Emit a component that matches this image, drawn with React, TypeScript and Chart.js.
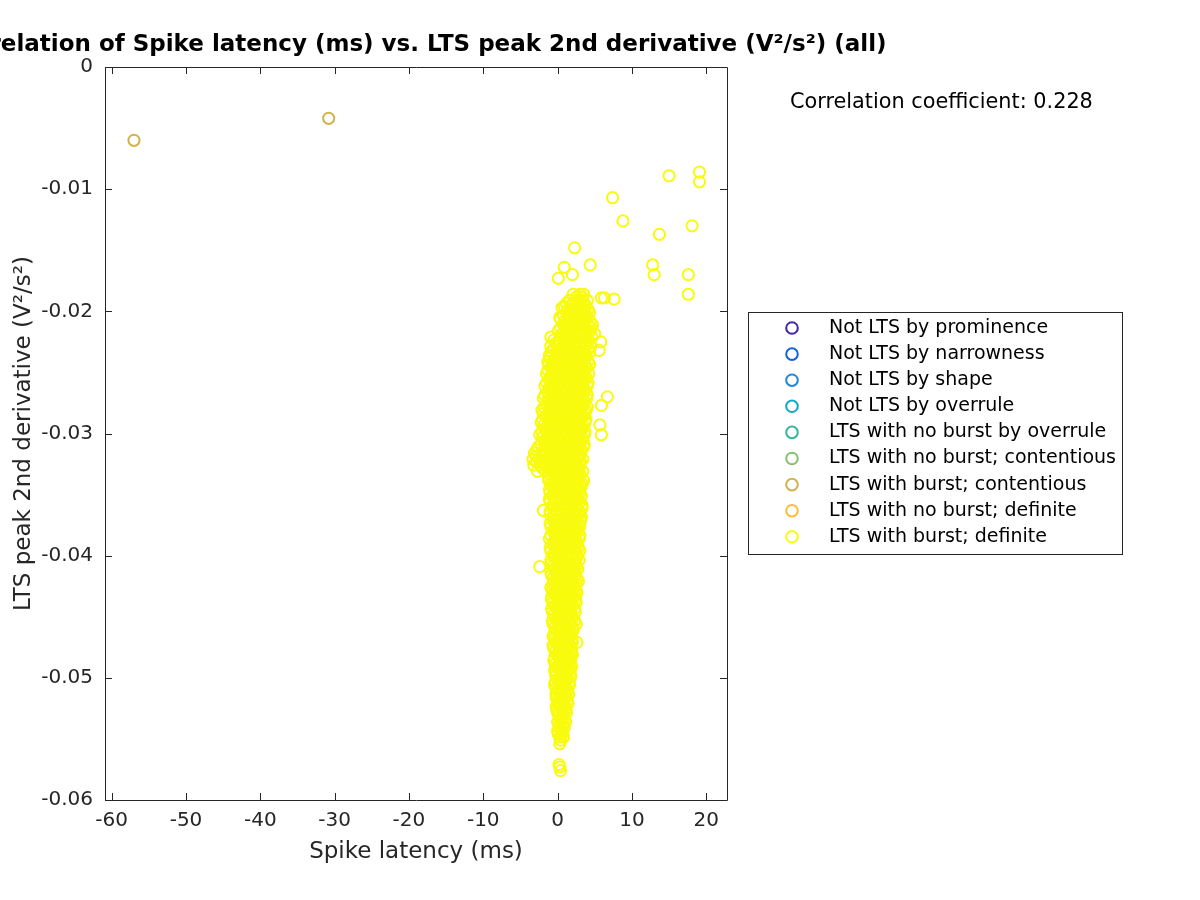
import React, { useEffect, useRef } from "react";
import { Chart, registerables } from "chart.js";

Chart.register(...registerables);

// ---------------- DATA ----------------
const titleText = "Correlation of Spike latency (ms) vs. LTS peak 2nd derivative (V²/s²) (all)";
const xAxisLabel = "Spike latency (ms)";
const yAxisLabel = "LTS peak 2nd derivative (V²/s²)";
const correlationText = "Correlation coefficient: 0.228";

const xTicks = [-60, -50, -40, -30, -20, -10, 0, 10, 20];
const yTicks = [-0.06, -0.05, -0.04, -0.03, -0.02, -0.01, 0];
const xRange = [-60.9, 22.8];
const yRange = [-0.06, 0];

const classLabels = [
  "Not LTS by prominence",
  "Not LTS by narrowness",
  "Not LTS by shape",
  "Not LTS by overrule",
  "LTS with no burst by overrule",
  "LTS with no burst; contentious",
  "LTS with burst; contentious",
  "LTS with no burst; definite",
  "LTS with burst; definite",
];
const classColors = [
  "#3E26A8",
  "#1562DE",
  "#1F86D8",
  "#0DAAC8",
  "#33B89C",
  "#86C06E",
  "#D2B24C",
  "#FBBE37",
  "#F9FB0E",
];

// LTS with burst; contentious: [latency (ms), peak 2nd derivative]
const burstContentiousPoints: [number, number][] = [
  [-57.0, -0.006],
  [-30.8, -0.0042],
];

// LTS with burst; definite – scattered points [latency, derivative]
const burstDefiniteScatter: [number, number][] = [
  [7.4, -0.0107], [8.8, -0.0126], [15.0, -0.0089], [19.1, -0.0086], [19.1, -0.0094],
  [13.7, -0.0137], [18.1, -0.013], [12.8, -0.0162], [13.0, -0.017], [17.6, -0.017],
  [17.6, -0.0186], [2.3, -0.0148], [4.4, -0.0162], [0.9, -0.0164], [2.0, -0.017],
  [0.1, -0.0173], [5.9, -0.0189], [6.3, -0.0189], [7.6, -0.019], [0.6, -0.0197],
  [0.3, -0.0205], [-0.9, -0.0221], [5.8, -0.0225], [5.6, -0.0232], [6.7, -0.027],
  [5.9, -0.0277], [5.7, -0.0293], [5.9, -0.0301], [-1.9, -0.0363], [-2.4, -0.0409],
  [3.1, -0.0371], [3.0, -0.0342], [0.3, -0.0554], [0.2, -0.0571], [0.4, -0.0576],
  [0.3, -0.0573],
];

// LTS with burst; definite – dense band, each row: [derivative, latencies]
const burstDefiniteRows: [number, number[]][] = [
  [-0.0186, [2.1, 3.0, 3.5]],
  [-0.0191, [1.6, 2.6, 3.2, 4.0]],
  [-0.0196, [0.9, 1.8, 2.4, 3.1, 3.8]],
  [-0.0201, [1.2, 2.0, 2.7, 3.5, 4.3]],
  [-0.0206, [0.4, 1.5, 2.3, 3.0, 3.9]],
  [-0.0211, [0.8, 1.7, 2.5, 3.3, 4.1, 4.7]],
  [-0.0216, [0.1, 1.1, 1.9, 2.6, 3.4, 4.4]],
  [-0.0221, [0.5, 1.4, 2.2, 2.9, 3.7, 4.6]],
  [-0.0226, [-0.2, 0.8, 1.6, 2.4, 3.1, 3.9]],
  [-0.0231, [-0.6, 0.3, 1.1, 1.9, 2.7, 3.5, 4.2]],
  [-0.0236, [-1.1, 0.0, 0.8, 1.5, 2.3, 3.0, 3.8]],
  [-0.0241, [-1.3, -0.4, 0.4, 1.2, 2.0, 2.7, 3.4, 4.1]],
  [-0.0246, [-0.9, 0.0, 0.9, 1.6, 2.4, 3.2, 3.9]],
  [-0.0251, [-1.5, -0.6, 0.3, 1.1, 1.9, 2.6, 3.4, 4.2]],
  [-0.0256, [-1.1, -0.2, 0.6, 1.4, 2.2, 2.9, 3.7]],
  [-0.0261, [-1.7, -0.8, 0.1, 0.9, 1.7, 2.5, 3.2, 4.0]],
  [-0.0266, [-1.3, -0.4, 0.5, 1.3, 2.0, 2.8, 3.6]],
  [-0.0271, [-1.9, -1.0, -0.1, 0.8, 1.6, 2.4, 3.1, 3.9]],
  [-0.0276, [-1.5, -0.6, 0.3, 1.1, 1.9, 2.7, 3.5]],
  [-0.0281, [-2.1, -1.1, -0.2, 0.7, 1.5, 2.3, 3.0, 3.8]],
  [-0.0286, [-1.6, -0.7, 0.2, 1.0, 1.8, 2.6, 3.4]],
  [-0.0291, [-2.2, -1.2, -0.3, 0.6, 1.4, 2.2, 3.0, 3.7]],
  [-0.0296, [-1.7, -0.8, 0.1, 0.9, 1.7, 2.5, 3.3]],
  [-0.0301, [-2.4, -1.3, -0.4, 0.5, 1.3, 2.1, 2.9, 3.6]],
  [-0.0306, [-1.8, -0.9, 0.0, 0.8, 1.6, 2.4, 3.2]],
  [-0.0311, [-2.6, -1.4, -0.5, 0.4, 1.2, 2.0, 2.8, 3.5]],
  [-0.0316, [-3.1, -2.2, -1.0, -0.1, 0.7, 1.5, 2.3, 3.1]],
  [-0.0321, [-3.3, -2.5, -1.5, -0.6, 0.3, 1.1, 1.9, 2.7, 3.4]],
  [-0.0326, [-3.2, -2.3, -1.1, -0.2, 0.6, 1.4, 2.2, 3.0]],
  [-0.0331, [-2.7, -1.6, -0.7, 0.2, 1.0, 1.8, 2.6, 3.4]],
  [-0.0336, [-1.2, -0.3, 0.5, 1.3, 2.1, 2.9]],
  [-0.0341, [-0.8, 0.1, 0.9, 1.7, 2.5, 3.3]],
  [-0.0346, [-1.1, -0.3, 0.5, 1.3, 2.1, 2.9]],
  [-0.0351, [-0.7, 0.1, 0.9, 1.7, 2.5, 3.2]],
  [-0.0356, [-1.0, -0.2, 0.6, 1.4, 2.2, 3.0]],
  [-0.0361, [-0.6, 0.2, 1.0, 1.8, 2.6, 3.3]],
  [-0.0366, [-1.0, -0.2, 0.6, 1.4, 2.2, 2.9]],
  [-0.0371, [-0.6, 0.2, 1.0, 1.8, 2.5]],
  [-0.0376, [-0.9, -0.1, 0.7, 1.5, 2.3, 3.0]],
  [-0.0381, [-0.5, 0.3, 1.1, 1.9, 2.6]],
  [-0.0386, [-1.1, -0.2, 0.6, 1.4, 2.2, 2.9]],
  [-0.0391, [-0.6, 0.2, 1.0, 1.8, 2.6]],
  [-0.0396, [-0.9, -0.1, 0.7, 1.5, 2.3, 3.0]],
  [-0.0401, [-0.5, 0.3, 1.1, 1.9, 2.6]],
  [-0.0406, [-0.8, 0.0, 0.8, 1.6, 2.4]],
  [-0.0411, [-0.4, 0.4, 1.2, 2.0, 2.7]],
  [-0.0416, [-0.8, 0.0, 0.8, 1.6, 2.4]],
  [-0.0421, [-0.4, 0.4, 1.2, 2.0, 2.8]],
  [-0.0426, [-0.9, -0.1, 0.7, 1.5, 2.3]],
  [-0.0431, [-0.5, 0.3, 1.1, 1.9, 2.6]],
  [-0.0436, [-0.8, 0.0, 0.8, 1.6, 2.4]],
  [-0.0441, [-0.4, 0.4, 1.2, 2.0]],
  [-0.0446, [-0.7, 0.1, 0.9, 1.7, 2.4]],
  [-0.0451, [-0.3, 0.5, 1.3, 2.0]],
  [-0.0456, [-0.6, 0.2, 1.0, 1.8, 2.5]],
  [-0.0461, [-0.2, 0.6, 1.4, 2.1]],
  [-0.0466, [-0.6, 0.2, 1.0, 1.7]],
  [-0.0471, [-0.2, 0.6, 1.4, 2.0, 2.6]],
  [-0.0476, [-0.5, 0.3, 1.1, 1.8]],
  [-0.0481, [-0.1, 0.7, 1.4, 2.0]],
  [-0.0486, [-0.5, 0.3, 1.0, 1.7]],
  [-0.0491, [-0.1, 0.6, 1.3, 1.9]],
  [-0.0496, [-0.3, 0.4, 1.1, 1.7]],
  [-0.0501, [0.0, 0.7, 1.3]],
  [-0.0506, [-0.4, 0.3, 1.0, 1.6]],
  [-0.0511, [0.0, 0.7, 1.3]],
  [-0.0516, [-0.2, 0.5, 1.1]],
  [-0.0521, [0.1, 0.8, 1.4]],
  [-0.0526, [-0.1, 0.5, 1.1]],
  [-0.0531, [0.2, 0.8]],
  [-0.0536, [0.0, 0.6, 1.1]],
  [-0.0541, [0.3, 0.9]],
  [-0.0546, [0.1, 0.6]],
  [-0.0551, [0.4]],
];

// LTS with burst; definite – second set of band rows (in between the first set)
const burstDefiniteRowsB: [number, number[]][] = [
  [-0.01885, [2.5, 3.3]],
  [-0.01935, [1.2, 2.1, 2.9, 3.6]],
  [-0.01985, [1.4, 2.2, 2.8, 3.5, 4.1]],
  [-0.02035, [0.8, 1.6, 2.4, 3.2, 3.9]],
  [-0.02085, [0.9, 1.9, 2.7, 3.5, 4.4]],
  [-0.02135, [0.4, 1.3, 2.1, 2.9, 3.7, 4.5]],
  [-0.02185, [0.6, 1.5, 2.3, 3.0, 3.9, 5.0]],
  [-0.02235, [-0.5, 0.2, 1.0, 1.8, 2.6, 3.4, 4.2]],
  [-0.02285, [-0.9, 0.0, 0.7, 1.5, 2.3, 3.1, 3.8, 4.5]],
  [-0.02335, [-0.8, -0.1, 0.6, 1.4, 2.1, 2.9, 3.6, 4.3]],
  [-0.02385, [-1.0, -0.2, 0.6, 1.4, 2.2, 2.9, 3.7]],
  [-0.02435, [-1.2, -0.4, 0.4, 1.2, 2.0, 2.8, 3.6, 4.3]],
  [-0.02485, [-1.3, -0.4, 0.5, 1.3, 2.0, 2.8, 3.6]],
  [-0.02535, [-1.0, -0.2, 0.7, 1.5, 2.3, 3.0, 3.8]],
  [-0.02585, [-1.5, -0.6, 0.2, 1.0, 1.8, 2.5, 3.3, 4.1]],
  [-0.02635, [-1.2, -0.3, 0.5, 1.3, 2.1, 2.9, 3.6]],
  [-0.02685, [-1.7, -0.8, 0.1, 0.9, 1.7, 2.4, 3.2, 4.0]],
  [-0.02735, [-1.4, -0.5, 0.4, 1.2, 2.0, 2.8, 3.6]],
  [-0.02785, [-1.8, -0.9, 0.0, 0.9, 1.7, 2.5, 3.3, 4.0]],
  [-0.02835, [-1.9, -1.1, -0.2, 0.6, 1.4, 2.2, 3.0, 3.7]],
  [-0.02885, [-2.0, -1.1, -0.2, 0.6, 1.4, 2.2, 3.0, 3.8]],
  [-0.02935, [-1.9, -0.8, 0.1, 1.0, 1.8, 2.6, 3.4]],
  [-0.02985, [-2.1, -1.2, -0.3, 0.5, 1.3, 2.1, 2.9, 3.7]],
  [-0.03035, [-2.0, -0.9, 0.0, 0.9, 1.7, 2.5, 3.3]],
  [-0.03085, [-2.2, -1.3, -0.4, 0.4, 1.2, 2.0, 2.8, 3.6]],
  [-0.03135, [-2.8, -1.8, -0.9, 0.0, 0.8, 1.6, 2.4, 3.2]],
  [-0.03185, [-2.9, -2.0, -1.1, -0.2, 0.6, 1.4, 2.2, 3.0]],
  [-0.03235, [-2.8, -1.9, -1.0, -0.1, 0.7, 1.5, 2.3, 3.1]],
  [-0.03285, [-2.0, -1.2, -0.3, 0.5, 1.3, 2.1, 2.9]],
  [-0.03335, [-1.1, -0.3, 0.6, 1.4, 2.2, 3.0]],
  [-0.03385, [-1.2, -0.4, 0.4, 1.2, 2.0, 2.8, 3.5]],
  [-0.03435, [-0.7, 0.1, 0.9, 1.7, 2.5, 3.2]],
  [-0.03485, [-1.0, -0.2, 0.6, 1.4, 2.2, 3.0]],
  [-0.03535, [-1.1, -0.3, 0.5, 1.3, 2.1, 2.8]],
  [-0.03585, [-0.6, 0.2, 1.0, 1.8, 2.6, 3.3]],
  [-0.03635, [-1.0, -0.2, 0.6, 1.4, 2.2, 2.9]],
  [-0.03685, [-0.6, 0.2, 1.0, 1.8, 2.6, 3.2]],
  [-0.03735, [-1.0, -0.2, 0.6, 1.4, 2.1, 2.8]],
  [-0.03785, [-0.5, 0.3, 1.1, 1.9, 2.7]],
  [-0.03835, [-0.9, -0.1, 0.7, 1.5, 2.3, 3.0]],
  [-0.03885, [-0.5, 0.3, 1.0, 1.8, 2.6]],
  [-0.03935, [-1.0, -0.2, 0.6, 1.4, 2.2, 2.8]],
  [-0.03985, [-0.5, 0.3, 1.1, 1.9, 2.6]],
  [-0.04035, [-0.9, -0.1, 0.7, 1.5, 2.3, 2.9]],
  [-0.04085, [-0.6, 0.2, 1.0, 1.8, 2.5]],
  [-0.04135, [-0.9, -0.1, 0.7, 1.5, 2.3]],
  [-0.04185, [-0.6, 0.2, 1.0, 1.8, 2.6]],
  [-0.04235, [-0.6, 0.2, 1.0, 1.8, 2.5]],
  [-0.04285, [-0.7, 0.1, 0.9, 1.7, 2.5]],
  [-0.04335, [-0.8, 0.0, 0.8, 1.6, 2.3]],
  [-0.04385, [-0.6, 0.2, 1.0, 1.8, 2.5]],
  [-0.04435, [-0.8, 0.0, 0.8, 1.6, 2.3]],
  [-0.04485, [-0.5, 0.3, 1.1, 1.9]],
  [-0.04535, [-0.7, 0.1, 0.9, 1.6, 2.3]],
  [-0.04585, [-0.4, 0.4, 1.2, 2.0]],
  [-0.04635, [-0.4, 0.4, 1.2, 1.9]],
  [-0.04685, [-0.4, 0.4, 1.2, 1.9]],
  [-0.04735, [-0.6, 0.1, 0.9, 1.7]],
  [-0.04785, [-0.3, 0.5, 1.2, 1.9]],
  [-0.04835, [-0.4, 0.4, 1.1, 1.8]],
  [-0.04885, [-0.3, 0.4, 1.1, 1.8]],
  [-0.04935, [-0.4, 0.3, 1.0, 1.6]],
  [-0.04985, [-0.2, 0.5, 1.2, 1.8]],
  [-0.05035, [-0.3, 0.4, 1.0, 1.6]],
  [-0.05085, [-0.2, 0.4, 1.1]],
  [-0.05135, [-0.2, 0.4, 1.0, 1.5]],
  [-0.05185, [0.0, 0.7, 1.3]],
  [-0.05235, [-0.2, 0.4, 1.0]],
  [-0.05285, [0.0, 0.7, 1.2]],
  [-0.05335, [0.3, 0.9]],
  [-0.05385, [0.2, 0.8]],
  [-0.05435, [0.0, 0.6]],
  [-0.05485, [0.3, 0.8]],
];

// ---------------- CHART ----------------
const FONT = "'DejaVu Sans', Verdana, sans-serif";
const AXIS_COLOR = "#262626";

const decorPlugin = {
  id: "decor",
  afterDraw(chart: any) {
    const { ctx, chartArea, scales } = chart;
    const { left, right, top, bottom } = chartArea;
    ctx.save();
    // axes box
    ctx.strokeStyle = AXIS_COLOR;
    ctx.lineWidth = 1;
    ctx.beginPath();
    ctx.rect(Math.round(left) + 0.5, Math.round(top) + 0.5, Math.round(right - left), Math.round(bottom - top));
    ctx.stroke();
    // inward ticks
    const tl = 7;
    ctx.beginPath();
    xTicks.forEach((v) => {
      const px = Math.round(scales.x.getPixelForValue(v)) + 0.5;
      ctx.moveTo(px, bottom);
      ctx.lineTo(px, bottom - tl);
      ctx.moveTo(px, top);
      ctx.lineTo(px, top + tl);
    });
    yTicks.forEach((v) => {
      const py = Math.round(scales.y.getPixelForValue(v)) + 0.5;
      ctx.moveTo(left, py);
      ctx.lineTo(left + tl, py);
      ctx.moveTo(right, py);
      ctx.lineTo(right - tl, py);
    });
    ctx.stroke();

    // title
    ctx.fillStyle = "#000";
    ctx.font = `bold 23px ${FONT}`;
    ctx.textAlign = "center";
    ctx.textBaseline = "middle";
    ctx.fillText(titleText, (left + right) / 2, 45);

    // correlation text
    ctx.font = `20.8px ${FONT}`;
    ctx.textAlign = "left";
    ctx.fillText(correlationText, 790, 103);

    // legend
    const lx = 748, ly = 312, lw = 374, lh = 242;
    ctx.fillStyle = "#fff";
    ctx.fillRect(lx, ly, lw, lh);
    ctx.strokeStyle = AXIS_COLOR;
    ctx.lineWidth = 1;
    ctx.strokeRect(lx + 0.5, ly + 0.5, lw, lh);
    ctx.font = `19px ${FONT}`;
    ctx.textBaseline = "middle";
    chart.data.datasets.forEach((ds: any, i: number) => {
      const cy = 328 + i * 26.1;
      ctx.beginPath();
      ctx.arc(792, cy, 5.8, 0, Math.PI * 2);
      ctx.strokeStyle = ds.borderColor;
      ctx.lineWidth = 2;
      ctx.stroke();
      ctx.fillStyle = "#000";
      ctx.fillText(ds.label, 829, cy);
    });
    ctx.restore();
  },
};

export default function App() {
  const ref = useRef<HTMLCanvasElement | null>(null);

  useEffect(() => {
    if (!ref.current) return;
    const definite: { x: number; y: number }[] = [];
    burstDefiniteRows.forEach(([y, xs]) => xs.forEach((x) => definite.push({ x, y })));
    burstDefiniteRowsB.forEach(([y, xs]) => xs.forEach((x) => definite.push({ x, y })));
    burstDefiniteScatter.forEach(([x, y]) => definite.push({ x, y }));

    const datasets = classLabels.map((label, i) => {
      let data: { x: number; y: number }[] = [];
      if (i === 6) data = burstContentiousPoints.map(([x, y]) => ({ x, y }));
      if (i === 8) data = definite;
      return {
        label,
        data,
        borderColor: classColors[i],
        backgroundColor: "rgba(0,0,0,0)",
        pointRadius: 5.6,
        pointHoverRadius: 5.6,
        pointBorderWidth: 2,
        pointStyle: "circle",
        showLine: false,
      };
    });

    const chart = new Chart(ref.current, {
      type: "scatter",
      data: { datasets },
      options: {
        animation: false,
        responsive: false,
        devicePixelRatio: 1,
        events: [],
        layout: { padding: { left: 0, top: 67, right: 473, bottom: 0 } },
        plugins: { legend: { display: false }, title: { display: false }, tooltip: { enabled: false } },
        scales: {
          x: {
            type: "linear",
            min: xRange[0],
            max: xRange[1],
            grid: { display: false, drawTicks: false },
            border: { display: false },
            afterBuildTicks: (scale: any) => {
              scale.ticks = xTicks.map((v) => ({ value: v }));
            },
            afterFit: (scale: any) => {
              scale.height = 100;
            },
            ticks: {
              padding: 9,
              color: AXIS_COLOR,
              font: { family: FONT, size: 20 },
              callback: (v: any) => String(v),
              maxRotation: 0,
              autoSkip: false,
            },
            title: {
              display: true,
              text: xAxisLabel,
              color: AXIS_COLOR,
              font: { family: FONT, size: 23 },
              padding: { top: 0, bottom: 34 },
            },
          },
          y: {
            type: "linear",
            min: yRange[0],
            max: yRange[1],
            grid: { display: false, drawTicks: false },
            border: { display: false },
            afterBuildTicks: (scale: any) => {
              scale.ticks = yTicks.map((v) => ({ value: v }));
            },
            afterFit: (scale: any) => {
              scale.width = 105;
            },
            ticks: {
              padding: 12,
              color: AXIS_COLOR,
              font: { family: FONT, size: 20 },
              callback: (v: any) => (v === 0 ? "0" : String(Number(Number(v).toFixed(2)))),
              autoSkip: false,
            },
            title: {
              display: true,
              text: yAxisLabel,
              color: AXIS_COLOR,
              font: { family: FONT, size: 23 },
              padding: { top: 10, bottom: 0 },
            },
          },
        },
      },
      plugins: [decorPlugin],
    });
    return () => chart.destroy();
  }, []);

  return (
    <div style={{ position: "fixed", left: 0, top: 0, width: 1200, height: 900, background: "#fff" }}>
      <canvas ref={ref} width={1200} height={900} style={{ width: 1200, height: 900, display: "block" }} />
    </div>
  );
}
